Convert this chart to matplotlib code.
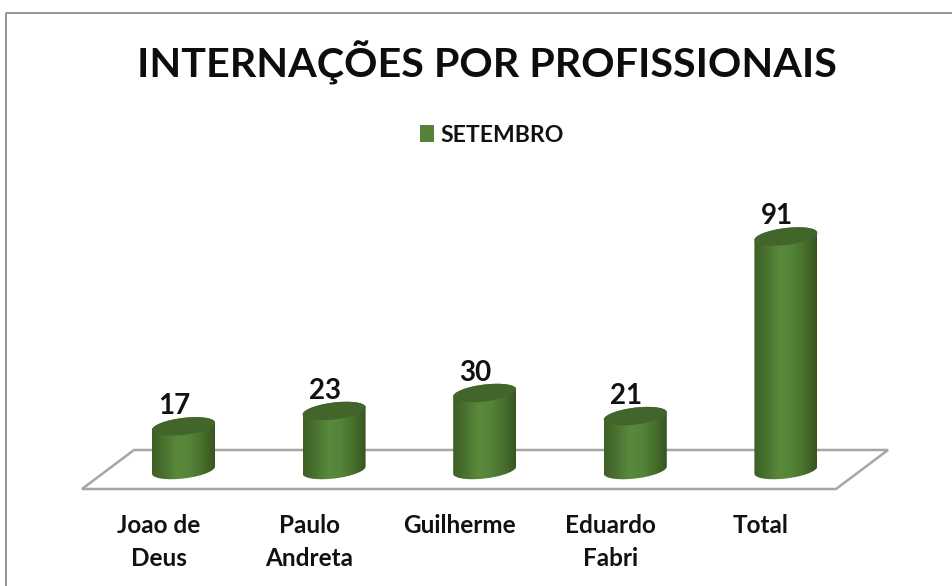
import numpy as np
import matplotlib
matplotlib.use("Agg")
import matplotlib.pyplot as plt
from matplotlib.colors import LinearSegmentedColormap
from matplotlib.patches import Patch, Polygon, PathPatch
from matplotlib.path import Path
from matplotlib.transforms import ScaledTranslation

categories = ["Joao de\nDeus", "Paulo\nAndreta", "Guilherme", "Eduardo\nFabri", "Total"]
values = [17, 23, 30, 21, 91]
series_name = "SETEMBRO"
chart_title = "INTERNAÇÕES POR PROFISSIONAIS"

W, H = 953, 586
plt.rcParams["font.family"] = ["Lato", "DejaVu Sans"]
plt.rcParams["font.weight"] = "bold"
fig = plt.figure(figsize=(W / 100, H / 100), dpi=100, facecolor="white")

# overlay in pixel coordinates for the frame and floor
bg = fig.add_axes([0, 0, 1, 1])
bg.set_xlim(0, W); bg.set_ylim(H, 0); bg.axis("off")
bg.plot([6.5, 6.5, W], [H, 12.5, 12.5], color="#8c8c8c", lw=1.3)
bg.add_patch(Polygon([(82, 489), (134, 450), (888, 450), (836, 489)], closed=True,
                     fill=False, ec="#a6a6a6", lw=1.8))

# data axes: one category = 150.6 px, one unit = 2.566 px
sx, sy = 150.6, 2.566
left = 183.5 - sx / 2
zero_px = 470
val_min, val_max = -10, 100
ax = fig.add_axes([left / W, 1 - (zero_px - val_min * sy) / H, 5 * sx / W, (val_max - val_min) * sy / H])
ax.patch.set_alpha(0)
for s in ax.spines.values():
    s.set_visible(False)
ax.set_yticks([])
ax.set_xticks(range(len(categories)), categories, fontsize=17.5, fontweight="bold", color="#111111",
              linespacing=1.5)
ax.tick_params(axis="x", length=0, pad=13.5)
shift = ScaledTranslation(-25 / 100, 0, fig.dpi_scale_trans)
for lab in ax.get_xticklabels():
    lab.set_transform(lab.get_transform() + shift)
    lab.set_verticalalignment("top")

cmap = LinearSegmentedColormap.from_list(
    "cyl", ["#3d6024", "#4a7230", "#598a3b", "#55843a", "#47702d", "#375621"])
grad = np.linspace(0, 1, 128)[None, :]

a, b, tilt = 31.5 / sx, 8.5 / sy, 3.6 / sy
t = np.linspace(0, 2 * np.pi, 121)

for i, v in enumerate(values):
    # side surface
    lower = np.linspace(np.pi, 2 * np.pi, 61)
    upper = np.linspace(0, np.pi, 61)
    xs = np.r_[i + a * np.cos(lower), i + a * np.cos(upper)]
    ys = np.r_[tilt * np.cos(lower) + b * np.sin(lower),
               v + tilt * np.cos(upper) + b * np.sin(upper)]
    clip = PathPatch(Path(np.c_[xs, ys]), transform=ax.transData, fc="none", ec="none")
    ax.add_patch(clip)
    im = ax.imshow(grad, cmap=cmap, extent=[i - a, i + a, -b - tilt, v + b + tilt],
                   aspect="auto", zorder=2, interpolation="bilinear")
    im.set_clip_path(clip)
    # top cap
    ax.fill(i + a * np.cos(t), v + tilt * np.cos(t) + b * np.sin(t),
            color="#41652a", zorder=3, lw=0)
    ax.annotate(str(v), (i, v), xytext=(-6.5, 14.5), textcoords="offset points",
                ha="center", va="center", fontsize=20, fontweight="bold", color="#111111", zorder=4)
ax.set_xlim(-0.5, 4.5); ax.set_ylim(val_min, val_max)

fig.text(487 / W, 1 - 62.5 / H, chart_title, ha="center", va="center", fontsize=29.7,
         fontweight="bold", color="#0d0d0d")

leg = fig.legend(handles=[Patch(fc="#558237", ec="none", label=series_name)],
                 loc="center", bbox_to_anchor=(491.5 / W, 1 - 135 / H), frameon=False,
                 prop={"family": "Lato", "weight": "bold", "size": 16.6},
                 handlelength=0.6, handleheight=0.8, handletextpad=0.28, labelcolor="#111111")

fig.savefig("out.png", dpi=100, facecolor="white")
